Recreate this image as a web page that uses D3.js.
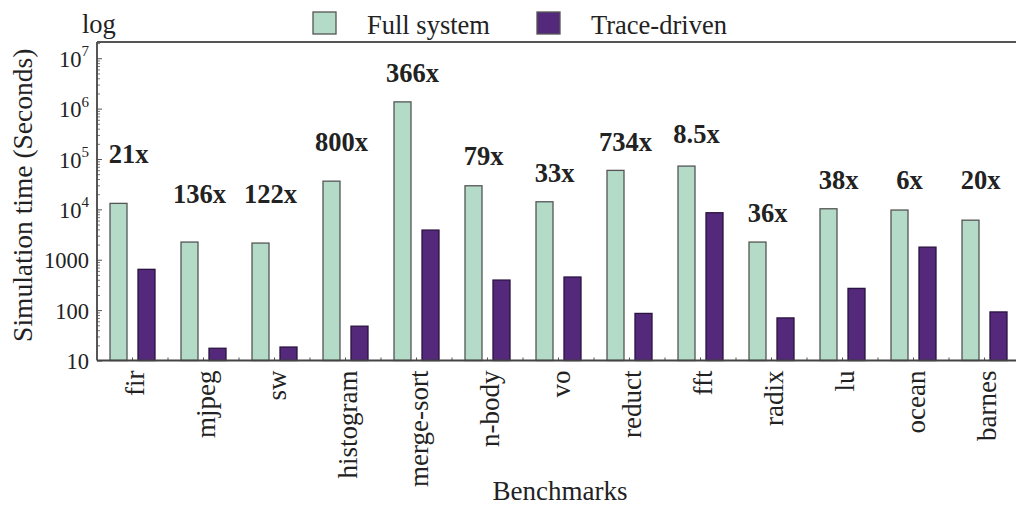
<!DOCTYPE html>
<html>
<head>
<meta charset="utf-8">
<script src="https://cdn.jsdelivr.net/npm/d3@7"></script>
<style>
  html, body { margin: 0; padding: 0; background: #fff; }
  svg { display: block; font-family: "Liberation Serif", "DejaVu Serif", serif; }
</style>
</head>
<body>
<svg id="chart" width="1016" height="509"></svg>
<script>
const categories = ["fir","mjpeg","sw","histogram","merge-sort","n-body","vo","reduct","fft","radix","lu","ocean","barnes"];
const fullSystem = [13150, 2245, 2143, 36300, 1360000, 29400, 14150, 59400, 72300, 2245, 10280, 9700, 6100];
const traceDriven = [645, 17.5, 18.5, 48, 3880, 395, 454, 86, 8570, 70, 270, 1780, 92];
const speedupLabels = ["21x","136x","122x","800x","366x","79x","33x","734x","8.5x","36x","38x","6x","20x"];
const speedupLabelAt = [82600, 13330, 13330, 143000, 3360000, 75700, 34800, 143000, 206000, 5600, 25300, 25300, 25300];
const seriesNames = ["Full system","Trace-driven"];
const yMajorTicks = [10, 100, 1000, 1e4, 1e5, 1e6, 1e7];

(function() {
const colors = {"Full system": "#b3dbc8", "Trace-driven": "#54287a"};
const svg = d3.select("#chart");
const pLeft = 97, pRight = 1020, pTop = 42, pBottom = 360.5;

const x = d3.scaleBand().domain(categories).range([pLeft, pRight]).padding(0);
const inner = d3.scaleBand().domain(seriesNames).range([-22.5, 22.5]).paddingInner(11/28).paddingOuter(0);
const y = d3.scaleLog().domain([10, 2.1e7]).range([pBottom, pTop]);

// bars
const rows = categories.map((c, i) => ({cat: c, vals: [
  {s: "Full system", v: fullSystem[i]},
  {s: "Trace-driven", v: traceDriven[i]}
]}));
const g = svg.append("g");
const groups = g.selectAll("g.grp").data(rows).join("g")
  .attr("transform", d => `translate(${x(d.cat) + x.bandwidth()/2},0)`);
groups.selectAll("rect").data(d => d.vals).join("rect")
  .attr("x", d => inner(d.s))
  .attr("width", inner.bandwidth())
  .attr("y", d => y(d.v))
  .attr("height", d => pBottom - y(d.v))
  .attr("fill", d => colors[d.s])
  .attr("stroke", d => d.s === "Full system" ? "#555" : "#2a1340")
  .attr("stroke-width", 1.3);

// y axis: majors
const yAxis = d3.axisLeft(y).tickValues(yMajorTicks).tickSize(-5).tickPadding(8).tickFormat("");
const yAxisG = svg.append("g").attr("transform", `translate(${pLeft},0)`).call(yAxis);
yAxisG.select(".domain").remove();
yAxisG.selectAll(".tick line").attr("stroke", "#555").attr("stroke-width", 1);
yAxisG.selectAll(".tick text").each(function(d) {
  const t = d3.select(this);
  t.attr("font-size", 22.5).attr("fill", "#222").attr("font-family", "Liberation Serif").attr("dy", "0.36em");
  const e = Math.round(Math.log10(d));
  if (e <= 3) {
    t.text(String(d));
  } else {
    t.text(null);
    t.append("tspan").text("10");
    t.append("tspan").attr("font-size", 15).attr("dy", "-0.7em").text(String(e));
  }
});
// y minor ticks
const minors = [];
for (let e = 1; e <= 7; e++) for (let m = 2; m <= 9; m++) { const v = m * Math.pow(10, e); if (v < 2.1e7) minors.push(v); }
const yMinor = d3.axisLeft(y).tickValues(minors).tickSize(-3).tickFormat("");
const yMinorG = svg.append("g").attr("transform", `translate(${pLeft},0)`).call(yMinor);
yMinorG.select(".domain").remove();
yMinorG.selectAll(".tick line").attr("stroke", "#555").attr("stroke-width", 0.8);

// x axis minor ticks at centers and boundaries
const halfTicks = [];
categories.forEach(c => { halfTicks.push(x(c) + x.bandwidth()/2); halfTicks.push(x(c) + x.bandwidth()); });
svg.append("g").selectAll("line").data(halfTicks).join("line")
  .attr("x1", d => d).attr("x2", d => d).attr("y1", pBottom).attr("y2", pBottom - 3)
  .attr("stroke", "#555").attr("stroke-width", 1);

// x axis labels
const xAxis = d3.axisBottom(x).tickSize(0).tickPadding(0);
const xAxisG = svg.append("g").attr("transform", `translate(0,${pBottom})`).call(xAxis);
xAxisG.select(".domain").remove();
xAxisG.selectAll(".tick text")
  .attr("font-size", 27).attr("fill", "#222").attr("font-family", "Liberation Serif")
  .attr("text-anchor", "end")
  .attr("transform", "rotate(-90)")
  .attr("x", -10).attr("y", 0).attr("dy", "0.43em");

// frame lines
svg.append("line").attr("x1", pLeft).attr("x2", 1016).attr("y1", pBottom).attr("y2", pBottom).attr("stroke", "#444").attr("stroke-width", 1.8);
svg.append("line").attr("x1", pLeft).attr("x2", pLeft).attr("y1", pTop).attr("y2", pBottom).attr("stroke", "#444").attr("stroke-width", 1.8);
svg.append("line").attr("x1", pLeft).attr("x2", 1016).attr("y1", pTop).attr("y2", pTop).attr("stroke", "#555").attr("stroke-width", 1.8);

// speedup labels
svg.append("g").selectAll("text").data(categories).join("text")
  .attr("x", (d) => x(d) + x.bandwidth()/2 - 4)
  .attr("y", (d, i) => y(speedupLabelAt[i]))
  .attr("text-anchor", "middle")
  .attr("font-size", 26.5).attr("font-weight", "bold").attr("fill", "#222")
  .text((d, i) => speedupLabels[i]);

// axis titles
svg.append("text").attr("transform", `translate(32,${(pTop+pBottom)/2 - 6}) rotate(-90)`)
  .attr("text-anchor", "middle").attr("font-size", 27.5).attr("fill", "#222")
  .text("Simulation time (Seconds)");
svg.append("text").attr("x", 560).attr("y", 500).attr("text-anchor", "middle")
  .attr("font-size", 27).attr("fill", "#222").text("Benchmarks");
svg.append("text").attr("x", 82).attr("y", 33).attr("font-size", 26.5).attr("fill", "#222").text("log");

// legend
const legendX = [313, 537];
const legend = svg.append("g").selectAll("g").data(seriesNames).join("g")
  .attr("transform", (d, i) => `translate(${legendX[i]},12)`);
legend.append("rect").attr("width", 23).attr("height", 22)
  .attr("fill", d => colors[d]).attr("stroke", "#555").attr("stroke-width", 1.3);
legend.append("text").attr("x", 54).attr("y", 21.5).attr("font-size", 26.5).attr("fill", "#222").text(d => d);
})();
</script>
</body>
</html>
